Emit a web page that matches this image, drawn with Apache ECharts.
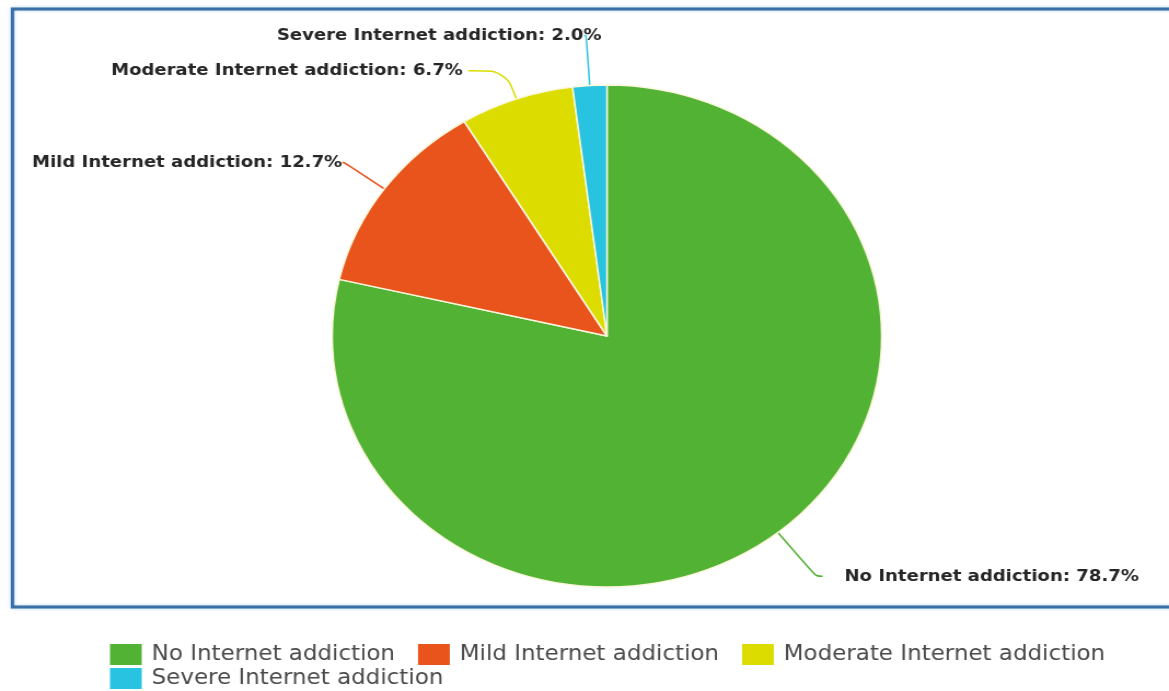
<!DOCTYPE html>
<html>
<head>
<meta charset="utf-8">
<script src="https://cdn.jsdelivr.net/npm/echarts@6/dist/echarts.min.js"></script>
<style>
  html, body { margin: 0; padding: 0; background: #fff; overflow: hidden; }
  #wrap { width: 1169px; height: 691px; position: relative; overflow: hidden; }
  #chart { width: 1068px; height: 691px; transform: scaleX(1.09457); transform-origin: 0 0; }
</style>
</head>
<body>
<div id="wrap"><div id="chart"></div></div>
<script>
// ---- data ----
const categories = ['No Internet addiction', 'Mild Internet addiction', 'Moderate Internet addiction', 'Severe Internet addiction'];
const values = [78.7, 12.7, 6.7, 2.0];
const colors = ['#52b234', '#e8541c', '#dcdc00', '#27c3e0'];

// label leader-line tuning per slice (styling only)
const lineLen  = [56, 45, 30, 50];
const lineLen2 = [6, 2, 34, 2];
const labelDist = [20, 0, 5, -16];

const chart = echarts.init(document.getElementById('chart'), null, { renderer: 'canvas' });

const pieData = categories.map((name, i) => ({
  name: name,
  value: values[i],
  itemStyle: { color: colors[i] },
  label: { distanceToLabelLine: labelDist[i] },
  labelLine: { length: lineLen[i], length2: lineLen2[i] }
}));

const legendText = { fontFamily: 'DejaVu Sans', fontSize: 21, color: '#4a4a4a', lineHeight: 21, padding: [0, 0, 0, 4] };

chart.setOption({
  animation: false,
  backgroundColor: '#ffffff',
  graphic: [{
    type: 'rect',
    shape: { x: 11.4, y: 9, width: 1100, height: 598 },
    style: { fill: 'none', stroke: '#3c6fa6', lineWidth: 3, shadowBlur: 3, shadowColor: 'rgba(120,180,235,0.7)' },
    silent: true, z: 0
  }],
  legend: [{
    data: categories.slice(0, 3),
    left: 100.5, top: 644, orient: 'horizontal', padding: 0,
    itemWidth: 29, itemHeight: 21, itemGap: 21, icon: 'rect',
    itemStyle: { borderWidth: 0 },
    selectedMode: false, textStyle: legendText
  }, {
    data: categories.slice(3),
    left: 100.5, top: 668, orient: 'horizontal', padding: 0,
    itemWidth: 29, itemHeight: 21, itemGap: 21, icon: 'rect',
    itemStyle: { borderWidth: 0 },
    selectedMode: false, textStyle: legendText
  }],
  series: [{
    type: 'pie',
    center: [554.5, 336],
    radius: 251,
    startAngle: 90,
    clockwise: true,
    avoidLabelOverlap: false,
    itemStyle: { borderColor: '#fbf7dc', borderWidth: 1.5 },
    label: {
      show: true,
      position: 'outside',
      fontFamily: 'DejaVu Sans',
      fontWeight: 'bold',
      fontSize: 16.5,
      color: '#262626',
      formatter: p => p.name + ': ' + p.value.toFixed(1) + '%'
    },
    labelLine: { show: true, smooth: 0.35, lineStyle: { width: 1.5 } },
    emphasis: { disabled: true },
    data: pieData
  }]
});
</script>
</body>
</html>
